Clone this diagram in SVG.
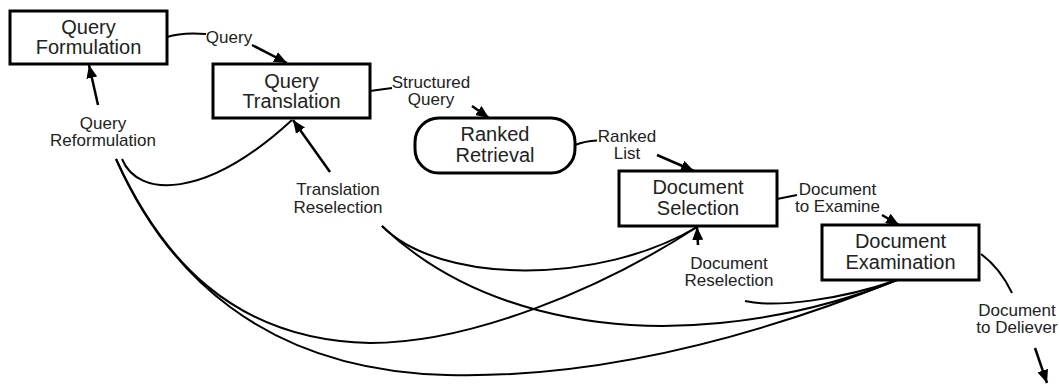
<svg xmlns="http://www.w3.org/2000/svg" width="1060" height="385" viewBox="0 0 1060 385">
<style>
.box{fill:#fff;stroke:#000;stroke-width:3}
.bt{font-family:"Liberation Sans",Arial,sans-serif;font-size:20px;fill:#222;text-anchor:middle}
.lt{font-family:"Liberation Sans",Arial,sans-serif;font-size:17px;fill:#222;text-anchor:middle}
.ln{fill:none;stroke:#000;stroke-width:2}
.ar{fill:none;stroke:#000;stroke-width:2.5;marker-end:url(#ah)}
</style>
<defs>
<marker id="ah" markerUnits="userSpaceOnUse" markerWidth="13" markerHeight="11" refX="13" refY="5.5" orient="auto">
<path d="M0,0 L13,5.5 L0,11 z" fill="#000"/>
</marker>
</defs>
<rect width="1060" height="385" fill="#fff"/>
<g id="connectors">
<path class="ln" d="M167,37 Q182,32 206,34"/>
<path class="ar" d="M252,45 L287,63"/>
<path class="ln" d="M370,91 L392,88"/>
<path class="ar" d="M472,106 L489,118"/>
<path class="ln" d="M575,145 Q585,141 597,140.5"/>
<path class="ar" d="M657,155 L694,171"/>
<path class="ln" d="M777,199 L797,195"/>
<path class="ar" d="M882,215 L899,225"/>
<path class="ln" d="M981,254 Q1000,268 1012,293"/>
<path class="ar" d="M1035,348 L1047,383"/>
<path class="ar" d="M98,105 L89,65"/>
<path class="ar" d="M330,172 L293,120"/>
<path class="ar" d="M698,245 L697,227"/>
<path class="ln" d="M122,159 C138,198 205,200 292,120"/>
<path class="ln" d="M116,159 C160,255 230,340 370,343 C470,343 600,290 697,227"/>
<path class="ln" d="M116,159 C165,270 260,370 447,375 C600,379 760,335 897,280"/>
<path class="ln" d="M382,226 C440,285 600,285 697,227"/>
<path class="ln" d="M382,226 C470,310 600,335 720,323 C800,315 860,295 897,280"/>
<path class="ln" d="M745,301 C775,308 840,300 897,280"/>
</g>
<g id="query-formulation">
<rect class="box" x="10" y="11" width="157" height="53"/>
<text class="bt" x="88.5" y="34">Query</text>
<text class="bt" x="88.5" y="54">Formulation</text>
</g>
<g id="query-translation">
<rect class="box" x="213" y="64" width="157" height="54"/>
<text class="bt" x="291.5" y="87.5">Query</text>
<text class="bt" x="291.5" y="108">Translation</text>
</g>
<g id="ranked-retrieval">
<rect class="box" x="415" y="118" width="160" height="55" rx="24" ry="24"/>
<text class="bt" x="495" y="141">Ranked</text>
<text class="bt" x="495" y="162">Retrieval</text>
</g>
<g id="document-selection">
<rect class="box" x="619" y="171" width="158" height="55"/>
<text class="bt" x="698" y="193.5">Document</text>
<text class="bt" x="698" y="215">Selection</text>
</g>
<g id="document-examination">
<rect class="box" x="822" y="225" width="157" height="55"/>
<text class="bt" x="900.5" y="247.5">Document</text>
<text class="bt" x="900.5" y="268.5">Examination</text>
</g>
<g id="labels">
<text class="lt" x="229" y="42.5">Query</text>
<text class="lt" x="103" y="128.5">Query</text>
<text class="lt" x="103" y="145.5">Reformulation</text>
<text class="lt" x="338" y="195">Translation</text>
<text class="lt" x="338" y="212.5">Reselection</text>
<text class="lt" x="431" y="87.5">Structured</text>
<text class="lt" x="431" y="104.5">Query</text>
<text class="lt" x="627" y="141.5">Ranked</text>
<text class="lt" x="627" y="158.5">List</text>
<text class="lt" x="837.5" y="195">Document</text>
<text class="lt" x="837.5" y="212">to Examine</text>
<text class="lt" x="729" y="269">Document</text>
<text class="lt" x="729" y="286">Reselection</text>
<text class="lt" x="1017" y="315.5">Document</text>
<text class="lt" x="1017" y="333">to Deliever</text>
</g>
</svg>
